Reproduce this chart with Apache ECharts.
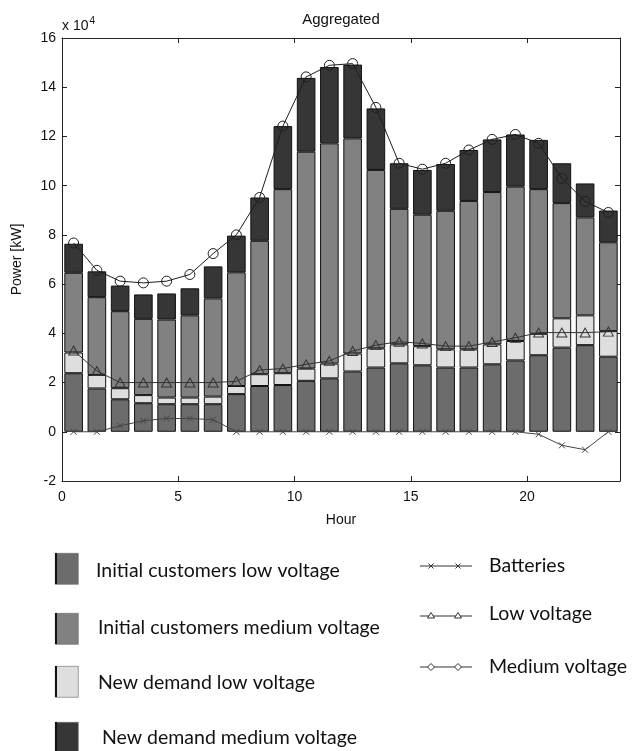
<!DOCTYPE html>
<html>
<head>
<meta charset="utf-8">
<script src="https://cdn.jsdelivr.net/npm/echarts@6/dist/echarts.min.js"></script>
<style>
  html, body { margin: 0; padding: 0; background: #fff; }
  #chart { width: 632px; height: 751px; }
</style>
</head>
<body>
<div id="chart"></div>
<script>
// Hourly aggregated load, values in units of 10^4 kW (one bar per hour slot)
const hours = ['0-1', '1-2', '2-3', '3-4', '4-5', '5-6', '6-7', '7-8', '8-9', '9-10', '10-11', '11-12',
               '12-13', '13-14', '14-15', '15-16', '16-17', '17-18', '18-19', '19-20', '20-21', '21-22', '22-23', '23-24'];

const initialLow    = [2.38, 1.76, 1.32, 1.16, 1.12, 1.12, 1.12, 1.53, 1.86, 1.90, 2.07, 2.17,
                       2.45, 2.61, 2.78, 2.70, 2.61, 2.61, 2.74, 2.90, 3.11, 3.42, 3.52, 3.05];
const newLow        = [0.84, 0.55, 0.45, 0.33, 0.27, 0.27, 0.31, 0.33, 0.48, 0.48, 0.50, 0.60,
                       0.73, 0.78, 0.77, 0.78, 0.74, 0.74, 0.81, 0.79, 0.87, 1.19, 1.21, 1.04];
const initialMedium = [3.24, 3.16, 3.13, 3.10, 3.17, 3.34, 3.99, 4.62, 5.42, 7.48, 8.81, 8.95,
                       8.74, 7.25, 5.51, 5.34, 5.63, 6.03, 6.19, 6.27, 5.88, 4.68, 3.98, 3.61];
const newMedium     = [1.18, 1.05, 1.04, 0.99, 1.06, 1.10, 1.30, 1.49, 1.76, 2.56, 3.00, 3.10,
                       3.00, 2.50, 1.85, 1.82, 1.90, 2.07, 2.14, 2.12, 2.00, 1.62, 1.38, 1.29];

const batteries     = [0, 0, 0.24, 0.45, 0.54, 0.54, 0.49, 0, 0, 0, 0, 0,
                       0, 0, 0, 0, 0, 0, 0, 0, -0.10, -0.55, -0.73, 0];
const lowVoltage    = [3.30, 2.47, 2.00, 2.00, 2.00, 2.00, 2.00, 2.05, 2.51, 2.57, 2.74, 2.88,
                       3.28, 3.52, 3.66, 3.59, 3.48, 3.48, 3.65, 3.82, 4.03, 4.03, 4.03, 4.07];
const mediumVoltage = [7.67, 6.56, 6.12, 6.05, 6.12, 6.39, 7.24, 8.00, 9.52, 12.42, 14.42, 14.89,
                       14.96, 13.18, 10.91, 10.67, 10.91, 11.45, 11.88, 12.08, 11.72, 10.30, 9.36, 8.91];

const barNames  = ['Initial customers low voltage', 'Initial customers medium voltage',
                   'New demand low voltage', 'New demand medium voltage'];
const lineNames = ['Batteries', 'Low voltage', 'Medium voltage'];

// layout and styling
const GRID = { left: 62, top: 38, width: 558, height: 443 };
const C = { initLow: '#6c6c6c', initMed: '#818181', newLow: '#dedede', newMed: '#363636' };
const CROSS = 'path://M0,0L10,10M10,0L0,10';
const AX_FONT = { fontFamily: 'Liberation Sans', fontSize: 14, color: '#111' };
const LEGEND_FONT = '19.5px Lato';

function barSeries(name, values, color) {
  return {
    type: 'bar', name, stack: 'load', data: values, barWidth: '80%',
    xAxisIndex: 0, yAxisIndex: 0,
    itemStyle: { color, borderColor: '#111', borderWidth: 1 },
    z: 2, silent: true
  };
}

function lineSeries(name, values, symbol, size, color) {
  return {
    type: 'line', name, data: values, symbol, symbolSize: size,
    xAxisIndex: 0, yAxisIndex: 0, showAllSymbol: true,
    lineStyle: { color, width: 1 },
    itemStyle: { color: 'rgba(0,0,0,0)', borderColor: color, borderWidth: 1 },
    z: 5, silent: true
  };
}

// legend drawn below the plot
const legendGraphics = [];
const barColors = [C.initLow, C.initMed, C.newLow, C.newMed];
const swatchTops = [553, 613, 666, 722];
const textYs = [571, 628, 683, 738];
const textXs = [96, 98, 98, 102];
barNames.forEach((n, i) => {
  legendGraphics.push({
    type: 'rect', left: 55, top: swatchTops[i],
    shape: { width: 23, height: 31 },
    style: { fill: barColors[i], stroke: '#666', lineWidth: 0.6 }
  });
  legendGraphics.push({
    type: 'line', shape: { x1: 56, y1: swatchTops[i], x2: 56, y2: swatchTops[i] + 31 },
    style: { stroke: '#111', lineWidth: 2 }
  });
  legendGraphics.push({
    type: 'text', x: textXs[i], y: textYs[i],
    style: { text: n, fill: '#111', font: LEGEND_FONT, textVerticalAlign: 'middle' }
  });
});
const lineYs = [566, 616, 667];
const lineTextYs = [566, 614, 667];
const legendSymbols = ['cross', 'triangle', 'diamond'];
lineNames.forEach((n, i) => {
  const y = lineYs[i];
  legendGraphics.push({
    type: 'line', shape: { x1: 420, y1: y, x2: 472, y2: y },
    style: { stroke: '#333', lineWidth: 1 }
  });
  [431, 458].forEach(x => {
    if (legendSymbols[i] === 'cross') {
      legendGraphics.push({
        type: 'polyline', shape: { points: [[x - 2.5, y - 2.5], [x + 2.5, y + 2.5]] },
        style: { stroke: '#333', lineWidth: 1 }
      });
      legendGraphics.push({
        type: 'polyline', shape: { points: [[x + 2.5, y - 2.5], [x - 2.5, y + 2.5]] },
        style: { stroke: '#333', lineWidth: 1 }
      });
    } else if (legendSymbols[i] === 'triangle') {
      legendGraphics.push({
        type: 'polygon', shape: { points: [[x, y - 3.5], [x + 3.5, y + 2], [x - 3.5, y + 2]] },
        style: { fill: '#fff', stroke: '#333', lineWidth: 1 }
      });
    } else {
      legendGraphics.push({
        type: 'polygon', shape: { points: [[x, y - 3.5], [x + 3.5, y], [x, y + 3.5], [x - 3.5, y]] },
        style: { fill: '#fff', stroke: '#333', lineWidth: 1 }
      });
    }
  });
  legendGraphics.push({
    type: 'text', x: 489, y: lineTextYs[i],
    style: { text: n, fill: '#111', font: LEGEND_FONT, textVerticalAlign: 'middle' }
  });
});

const chart = echarts.init(document.getElementById('chart'), null, { renderer: 'canvas' });

const axisCommon = {
  type: 'value',
  axisLine: { show: true, onZero: false, lineStyle: { color: '#222', width: 1 } },
  axisTick: { show: true, inside: true, length: 5, lineStyle: { color: '#222' } },
  splitLine: { show: false }
};

chart.setOption({
  animation: false,
  backgroundColor: '#fff',
  grid: { left: GRID.left, top: GRID.top, width: GRID.width, height: GRID.height, containLabel: false },
  xAxis: [
    // hourly slots carrying the bars and lines
    {
      type: 'category', data: hours, boundaryGap: true,
      axisLine: { show: false }, axisTick: { show: false }, axisLabel: { show: false },
      splitLine: { show: false }
    },
    // continuous hour scale shown along the bottom
    Object.assign({}, axisCommon, {
      min: 0, max: 24, interval: 5, position: 'bottom',
      axisLabel: Object.assign({ margin: 9, showMaxLabel: false }, AX_FONT),
      name: 'Hour', nameLocation: 'middle', nameGap: 32,
      nameTextStyle: { fontFamily: 'Liberation Sans', fontSize: 14, color: '#111' }
    }),
    Object.assign({}, axisCommon, {
      min: 0, max: 24, interval: 5, position: 'top',
      axisLabel: { show: false }
    })
  ],
  yAxis: [
    Object.assign({}, axisCommon, {
      min: -2, max: 16, interval: 2, position: 'left',
      axisLabel: Object.assign({ margin: 6 }, AX_FONT),
      name: 'Power [kW]', nameLocation: 'middle', nameGap: 38, nameRotate: 90,
      nameTextStyle: { fontFamily: 'Liberation Sans', fontSize: 14, color: '#111' }
    }),
    Object.assign({}, axisCommon, {
      min: -2, max: 16, interval: 2, position: 'right',
      axisLabel: { show: false }
    })
  ],
  series: [
    barSeries(barNames[0], initialLow, C.initLow),
    barSeries(barNames[2], newLow, C.newLow),
    barSeries(barNames[1], initialMedium, C.initMed),
    barSeries(barNames[3], newMedium, C.newMed),
    lineSeries(lineNames[0], batteries, CROSS, 6, '#444'),
    lineSeries(lineNames[1], lowVoltage, 'triangle', [10, 9], '#333'),
    lineSeries(lineNames[2], mediumVoltage, 'circle', 10, '#1e1e1e')
  ],
  graphic: [
    {
      type: 'text', x: GRID.left + GRID.width / 2, y: 20,
      style: { text: 'Aggregated', fill: '#111', font: '15px Liberation Sans',
               textAlign: 'center', textVerticalAlign: 'middle' }
    },
    {
      type: 'text', x: 62, y: 26,
      style: {
        text: 'x 10{sup|4}', fill: '#111', font: '14px Liberation Sans', textVerticalAlign: 'middle',
        rich: { sup: { fontSize: 10, fontFamily: 'Liberation Sans', fill: '#111', verticalAlign: 'top', padding: [0, 0, 10, 1] } }
      }
    }
  ].concat(legendGraphics)
});
</script>
</body>
</html>
